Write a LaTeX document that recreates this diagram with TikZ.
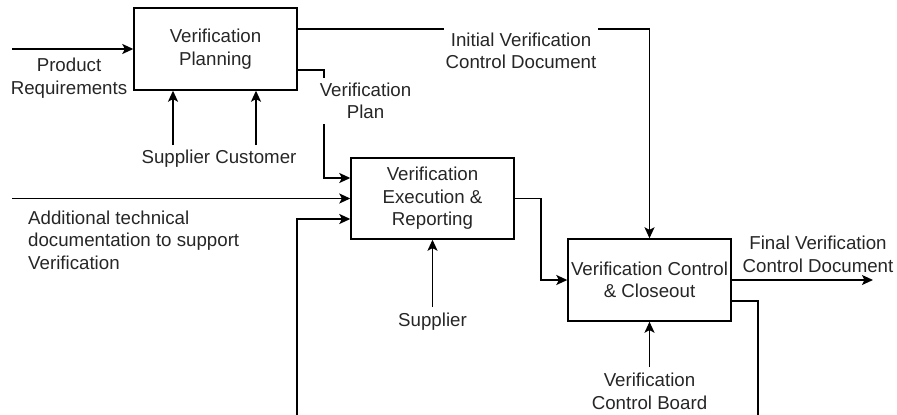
\documentclass[tikz,border=0pt]{standalone}
\usepackage{fontspec}
\setmainfont{Liberation Sans}
\usetikzlibrary{arrows.meta}
\begin{document}
\begin{tikzpicture}[x=1pt,y=-1pt,
  every node/.style={font=\fontsize{18.7}{22.5}\selectfont, text=black!85},
  proc/.style={draw, line width=1.4pt, minimum width=163pt, minimum height=82pt, align=center, inner sep=0pt},
  lbl/.style={align=center, inner sep=0pt},
  wlbl/.style={align=center, fill=white, inner xsep=2pt, inner ysep=5pt},
  flow/.style={line width=1.4pt},
  arr/.style={flow, -{Stealth[length=11pt,width=10pt,inset=2.5pt]}}]
\useasboundingbox (0,0) rectangle (897,415);

% activity boxes
\node[proc] (vp)  at (215.5,49)   {Verification\\Planning};
\node[proc, minimum height=81pt] (ver) at (432.5,198.5) {Verification\\Execution \&\\Reporting};
\node[proc] (vcc) at (649.5,280)  {Verification Control\\\& Closeout};

% free ends of the outer arrows
\coordinate (prIn)   at (12,49);
\coordinate (supA)   at (173,145);
\coordinate (cusA)   at (256,145);
\coordinate (atdIn)  at (12,198.5);
\coordinate (supB)   at (432.5,307);
\coordinate (vcbIn)  at (649.5,367);
\coordinate (fvOut)  at (873,280);
\coordinate (fbTop)  at (758,301);
\coordinate (fbEnd)  at (758,415);
\coordinate (fbBot)  at (297,415);
\coordinate (fbIn)   at (297,219);
\coordinate (ivTurn) at (649.5,29);
\coordinate (vpTurn) at (324,70);
\coordinate (vpIn)   at (324,178);
\coordinate (erTurn) at (541,198.5);

% inputs and mechanisms
\draw[arr] (prIn) -- (vp.west|-prIn);
\draw[arr] (supA) -- (vp.south-|supA);
\draw[arr] (cusA) -- (vp.south-|cusA);
\draw[arr] (atdIn) -- (ver.west|-atdIn);
\draw[arr] (supB) -- (ver.south);
\draw[arr] (vcbIn) -- (vcc.south);

% flows between activities
\draw[arr] (vp.east|-ivTurn) -- (ivTurn) -- (vcc.north);
\draw[arr] (vp.east|-vpTurn) -- (vpTurn) -- (vpIn) -- (ver.west|-vpIn);
\draw[arr] (ver.east|-erTurn) -- (erTurn) |- (vcc.west);
\draw[arr] (vcc.east|-fvOut) -- (fvOut);

% feedback from closeout back into execution
\draw[flow] (vcc.east|-fbTop) -- (fbTop) -- (fbEnd);
\draw[arr] (fbBot) -- (fbIn) -- (ver.west|-fbIn);

% labels
\node[lbl] (lPR) at (69,78) {Product\\Requirements};
\node[lbl] (lSC) at (219,159) {Supplier Customer};
\node[wlbl] (lIV) at (521,51) {Initial Verification\\Control Document};
\node[wlbl] (lVP) at (365.5,101) {Verification\\Plan};
\node[lbl, align=left, anchor=west] (lAT) at (28,240) {Additional technical\\documentation to support\\Verification};
\node[lbl] (lSB) at (432.5,322) {Supplier};
\node[lbl] (lFV) at (818,254.5) {Final Verification\\Control Document};
\node[lbl] (lVB) at (649.5,391.5) {Verification\\Control Board};
\end{tikzpicture}
\end{document}
